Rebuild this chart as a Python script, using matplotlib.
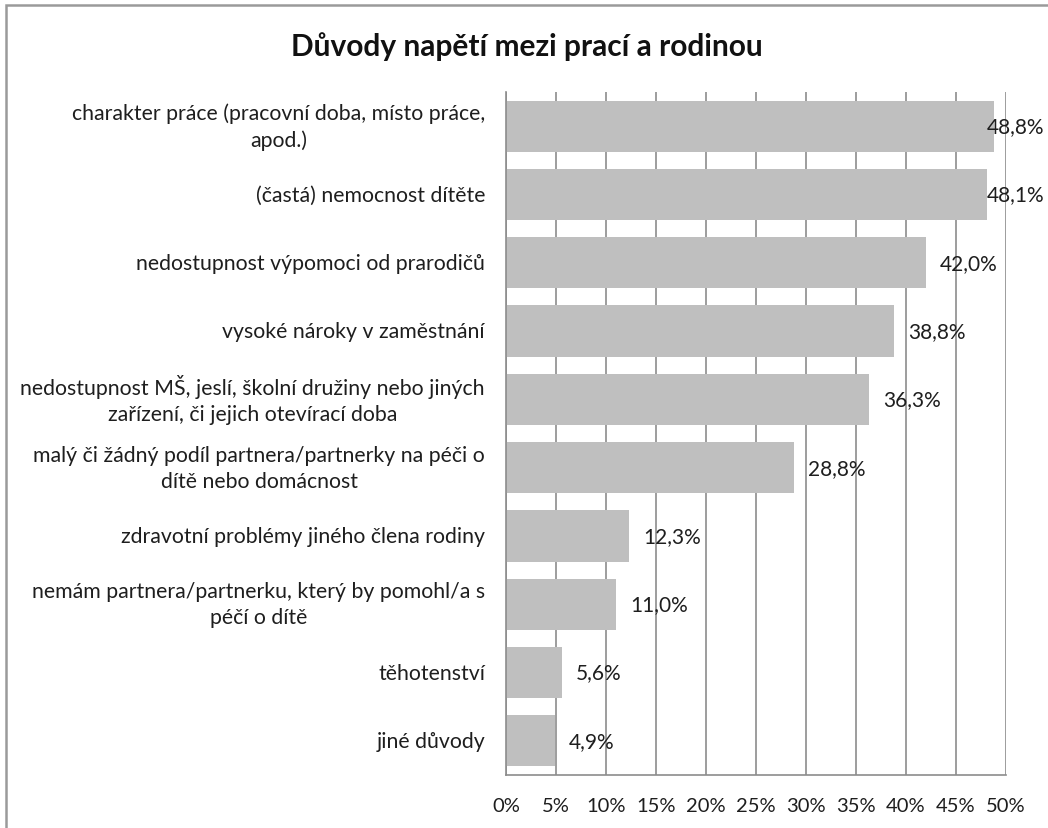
import matplotlib
matplotlib.use('Agg')
from matplotlib import pyplot as plt
from matplotlib.patches import Rectangle

plt.rcParams['font.family'] = ['Lato', 'DejaVu Sans']

title = 'Důvody napětí mezi prací a rodinou'

reasons = [
    'charakter práce (pracovní doba, místo práce,\napod.)',
    '(častá) nemocnost dítěte',
    'nedostupnost výpomoci od prarodičů',
    'vysoké nároky v zaměstnání',
    'nedostupnost MŠ, jeslí, školní družiny nebo jiných\nzařízení, či jejich otevírací doba',
    'malý či žádný podíl partnera/partnerky na péči o\ndítě nebo domácnost',
    'zdravotní problémy jiného člena rodiny',
    'nemám partnera/partnerku, který by pomohl/a s\npéčí o dítě',
    'těhotenství',
    'jiné důvody',
]
shares = [48.8, 48.1, 42.0, 38.8, 36.3, 28.8, 12.3, 11.0, 5.6, 4.9]
x_ticks = [0, 5, 10, 15, 20, 25, 30, 35, 40, 45, 50]

W, H = 1048, 829
fig = plt.figure(figsize=(W / 100, H / 100), dpi=100)

# outer chart frame (runs off the right and bottom edge)
fig.patches.append(Rectangle((6 / W, -0.1), 1.2, 1 - 6 / H + 0.1,
                             transform=fig.transFigure, fill=False,
                             edgecolor='#9a9a9a', lw=1.8))

ax = fig.add_axes([506 / W, 1 - 776 / H, 500 / W, 683 / H])

ypos = list(range(len(reasons)))
ax.barh(ypos, shares, height=0.75, color='#bfbfbf', zorder=2)

ax.set_xlim(0, 50)
ax.set_ylim(len(reasons) - 0.5, -0.5)
ax.set_xticks(x_ticks)
ax.set_xticklabels([f'{t}%' for t in x_ticks], fontsize=14.5, color='#1e1e1e')
ax.tick_params(axis='x', length=0, pad=16)
ax.set_yticks([])
ax.grid(axis='x', color='#8c8c8c', lw=1.2, zorder=1)

for side in ['top', 'right']:
    ax.spines[side].set_visible(False)
ax.spines['left'].set_color('#8c8c8c')
ax.spines['bottom'].set_color('#8c8c8c')
ax.spines['left'].set_linewidth(1.2)
ax.spines['bottom'].set_linewidth(1.2)
ax.spines['left'].set_zorder(3)

for y, label in zip(ypos, reasons):
    ax.text(-2.1, y, label, ha='right', va='center', multialignment='center',
            fontsize=15.3, color='#1e1e1e', linespacing=1.38)

for y, v in zip(ypos, shares):
    ax.text(min(v + 1.4, 48.1), y, f'{v:.1f}%'.replace('.', ','),
            ha='left', va='center', fontsize=15, color='#1e1e1e', zorder=4)

fig.text(527 / W, 1 - 47 / H, title, ha='center', va='center',
         fontsize=21.5, fontweight='bold', color='#111111')

fig.savefig('out.png', dpi=100)
